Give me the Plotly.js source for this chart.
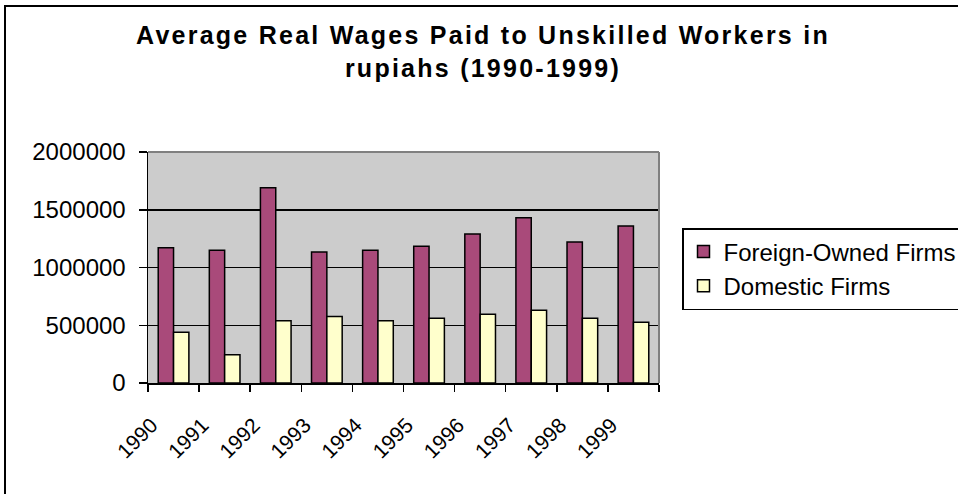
<!DOCTYPE html>
<html>
<head>
<meta charset="utf-8">
<script src="https://cdn.plot.ly/plotly-3.0.1.min.js"></script>
<style>
  html, body { margin: 0; padding: 0; background: #ffffff; }
  #wrap { position: relative; width: 958px; height: 494px; overflow: hidden; }
  #chart { position: absolute; left: 0; top: 0; width: 958px; height: 494px; }
  #frame { position: absolute; left: 4px; top: 5px; width: 2000px; height: 2000px;
           border-left: 2px solid #000; border-top: 2px solid #000; pointer-events: none; }
  .gtitle { letter-spacing: 2.25px; }
</style>
</head>
<body>
<div id="wrap">
  <div id="chart"></div>
  <div id="frame"></div>
</div>
<script>
const years = ['1990','1991','1992','1993','1994','1995','1996','1997','1998','1999'];
const foreignOwned = [1170000, 1150000, 1690000, 1135000, 1150000, 1185000, 1290000, 1430000, 1220000, 1360000];
const domestic = [440000, 245000, 540000, 575000, 540000, 560000, 595000, 630000, 560000, 525000];
const seriesNames = ['Foreign-Owned Firms', 'Domestic Firms'];
const yTicks = [0, 500000, 1000000, 1500000, 2000000];

const FONT = 'Liberation Sans, Arial, sans-serif';

const traces = [
  { type: 'bar', x: years, y: foreignOwned, name: seriesNames[0], legendgroup: 'a',
    marker: { color: '#A94A7A', line: { color: '#000000', width: 1.5 } }, hoverinfo: 'none' },
  { type: 'bar', x: years, y: domestic, name: seriesNames[1], legendgroup: 'b',
    marker: { color: '#FFFFCC', line: { color: '#000000', width: 1.5 } }, hoverinfo: 'none' }
];

const layout = {
  width: 958, height: 494,
  margin: { l: 148, r: 299, t: 152, b: 111, pad: 0, autoexpand: false },
  paper_bgcolor: '#ffffff',
  plot_bgcolor: '#CCCCCC',
  font: { family: FONT, color: '#000000', size: 24 },
  title: {
    text: 'Average Real Wages Paid to Unskilled Workers in<br>rupiahs (1990-1999)',
    font: { family: FONT, size: 25, color: '#000000', weight: 'bold' },
    xref: 'container', x: 483 / 958, xanchor: 'center',
    yref: 'container', y: 1 - 44 / 494, yanchor: 'top'
  },
  barmode: 'group', bargap: 0.4, bargroupgap: 0,
  xaxis: {
    type: 'category',
    showgrid: false, zeroline: false,
    showline: true, linecolor: '#000000', linewidth: 1.5,
    ticks: 'outside', tickson: 'boundaries', ticklen: 7, tickwidth: 1.5, tickcolor: '#000000',
    tickangle: -45,
    tickfont: { family: FONT, size: 21, color: '#000000' },
    ticklabelshift: -22, ticklabelstandoff: 20
  },
  yaxis: {
    range: [0, 2000000], tickvals: yTicks, tickformat: 'd',
    showgrid: true, gridcolor: '#000000', gridwidth: 1.5,
    zeroline: false,
    showline: true, linecolor: '#000000', linewidth: 1.5,
    ticks: 'outside', ticklen: 8, tickwidth: 1.5, tickcolor: '#000000',
    tickfont: { family: FONT, size: 24, color: '#000000' },
    ticklabelstandoff: 8
  },
  shapes: [
    { type: 'line', xref: 'paper', yref: 'paper', x0: 0, x1: 1, y0: 1, y1: 1,
      line: { color: '#808080', width: 2 }, layer: 'above' },
    { type: 'line', xref: 'paper', yref: 'paper', x0: 1, x1: 1, y0: 0, y1: 1,
      line: { color: '#808080', width: 2 }, layer: 'above' }
  ],
  legend: {
    x: (682 - 148) / 511, xanchor: 'left', xref: 'paper',
    y: (383 - 228) / 231, yanchor: 'top', yref: 'paper',
    bgcolor: '#ffffff', bordercolor: '#000000', borderwidth: 1.5,
    font: { family: FONT, size: 24, color: '#000000' },
    tracegroupgap: 8, traceorder: 'normal'
  },
  showlegend: true
};

Plotly.newPlot('chart', traces, layout, { staticPlot: true, displayModeBar: false });
</script>
</body>
</html>
